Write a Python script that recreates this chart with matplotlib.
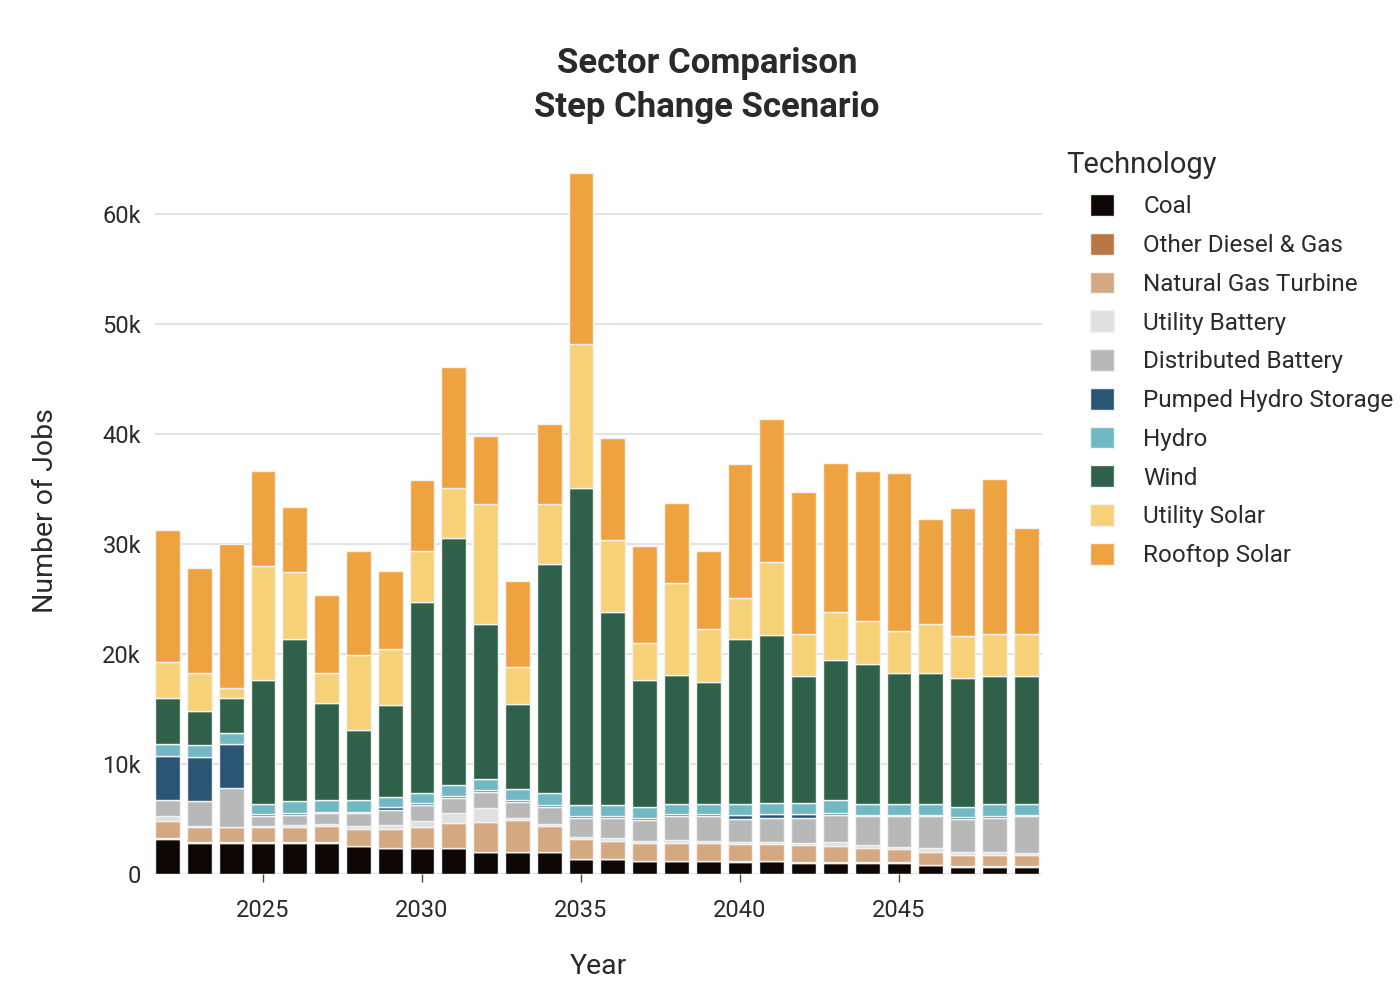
import numpy as np
import matplotlib
matplotlib.use('Agg')
import matplotlib.pyplot as plt
from matplotlib.ticker import FuncFormatter

plt.rcParams['font.family'] = ['Roboto', 'DejaVu Sans']

years = list(range(2022, 2050))

# jobs per technology, in thousands
coal = [3.2, 2.85, 2.85, 2.85, 2.85, 2.85, 2.55, 2.36, 2.36, 2.36, 1.97, 1.97, 1.97, 1.33,
        1.33, 1.15, 1.15, 1.15, 1.12, 1.15, 1.03, 1.03, 1.03, 1.03, 0.82, 0.67, 0.67, 0.67]
other_diesel_gas = [0.03]*28
natural_gas_turbine = [1.55, 1.4, 1.35, 1.4, 1.4, 1.45, 1.5, 1.74, 1.84, 2.24, 2.7, 2.93, 2.39, 1.85,
                       1.67, 1.65, 1.65, 1.65, 1.58, 1.55, 1.54, 1.45, 1.3, 1.21, 1.15, 1.06, 1.06, 1.0]
utility_battery = [0.5, 0.1, 0.05, 0.1, 0.15, 0.2, 0.25, 0.35, 0.55, 0.95, 1.33, 0.2, 0.2, 0.15,
                   0.25, 0.2, 0.25, 0.15, 0.2, 0.2, 0.2, 0.4, 0.25, 0.2, 0.4, 0.2, 0.2, 0.25]
distributed_battery = [1.45, 2.3, 3.55, 0.85, 0.95, 1.0, 1.2, 1.35, 1.45, 1.35, 1.45, 1.4, 1.5, 1.7,
                       1.8, 1.9, 2.15, 2.25, 2.1, 2.2, 2.33, 2.48, 2.62, 2.76, 2.83, 3.04, 3.13, 3.28]
pumped_hydro = [4.0, 3.95, 4.0, 0.2, 0.15, 0.15, 0.15, 0.25, 0.2, 0.2, 0.2, 0.2, 0.2, 0.2,
                0.2, 0.2, 0.2, 0.25, 0.3, 0.3, 0.3, 0.2, 0.15, 0.15, 0.15, 0.15, 0.15, 0.15]
hydro = [1.1, 1.1, 1.0, 0.96, 1.1, 1.05, 1.05, 0.95, 0.9, 0.95, 0.95, 1.0, 1.05, 1.0,
         1.0, 0.95, 0.9, 0.85, 1.0, 1.0, 1.0, 1.14, 1.0, 1.0, 1.0, 0.98, 1.09, 1.0]
wind = [4.2, 3.1, 3.2, 11.25, 14.7, 8.8, 6.4, 8.3, 17.4, 22.45, 14.1, 7.7, 20.8, 28.85,
        17.55, 11.55, 11.8, 11.1, 15.0, 15.3, 11.6, 12.7, 12.75, 11.85, 11.85, 11.7, 11.7, 11.64]
utility_solar = [3.2, 3.4, 0.9, 10.4, 6.1, 2.7, 6.8, 5.1, 4.6, 4.6, 10.9, 3.4, 5.5, 13.1,
                 6.5, 3.4, 8.3, 4.8, 3.8, 6.6, 3.8, 4.4, 3.9, 3.9, 4.5, 3.8, 3.8, 3.8]
rooftop_solar = [12.0, 9.6, 13.1, 8.6, 5.9, 7.1, 9.4, 7.1, 6.5, 11.0, 6.2, 7.8, 7.3, 15.5,
                 9.3, 8.8, 7.3, 7.1, 12.1, 13.0, 12.9, 13.5, 13.6, 14.3, 9.5, 11.6, 14.1, 9.6]

techs = ['Coal', 'Other Diesel & Gas', 'Natural Gas Turbine', 'Utility Battery',
         'Distributed Battery', 'Pumped Hydro Storage', 'Hydro', 'Wind',
         'Utility Solar', 'Rooftop Solar']
series = [coal, other_diesel_gas, natural_gas_turbine, utility_battery, distributed_battery,
          pumped_hydro, hydro, wind, utility_solar, rooftop_solar]
colors = ['#0e0706', '#b87844', '#d4a880', '#e0e0e0', '#b8b8b8',
          '#2a5575', '#6fb8c4', '#2f6049', '#f6d178', '#efa240']

txt = '#2a2a2a'
fig = plt.figure(figsize=(14, 9.89), dpi=100)
ax = fig.add_axes([155/1400, 1-874/989, (1042-155)/1400, (874-148)/989])

bottom = np.zeros(len(years))
for name, vals, c in zip(techs, series, colors):
    v = np.array(vals)*1000
    ax.bar(years, v, bottom=bottom, width=0.78, color=c, edgecolor='#f2f2f2',
           linewidth=1, label=name, zorder=3)
    bottom += v

ax.set_xlim(2021.6, 2049.5)
ax.set_ylim(0, 66000)
ax.set_yticks(range(0, 70000, 10000))
ax.yaxis.set_major_formatter(FuncFormatter(lambda v, p: '0' if v == 0 else '%dk' % (v/1000)))
ax.set_xticks([2025, 2030, 2035, 2040, 2045])
ax.grid(axis='y', color='#e3e3e3', linewidth=1.5, zorder=0)
for s in ax.spines.values():
    s.set_visible(False)
ax.tick_params(axis='y', length=0, labelsize=17, labelcolor=txt, pad=10)
ax.tick_params(axis='x', length=6, width=1, color='#444444', labelsize=17,
               labelcolor=txt, pad=12, direction='out')

ax.set_xlabel('Year', fontsize=20.5, color=txt, labelpad=22)
ax.set_ylabel('Number of Jobs', fontsize=20.5, color=txt, labelpad=31)

fig.text(0.505, 1-63/989, 'Sector Comparison', ha='center', va='center',
         fontsize=25, fontweight='bold', color=txt)
fig.text(0.505, 1-108/989, 'Step Change Scenario', ha='center', va='center',
         fontsize=25, fontweight='bold', color=txt)

# legend title drawn separately so the entries sit indented under it
fig.text(1066/1400, 1-165/989, 'Technology', ha='left', va='center', fontsize=21, color=txt)
leg = fig.legend(loc='upper left', bbox_to_anchor=(1090/1400, 1-194/989), frameon=False,
                 fontsize=17.5, handlelength=1.0, handleheight=1.0, labelspacing=0.6,
                 handletextpad=1.2, borderaxespad=0, borderpad=0)
for t in leg.get_texts():
    t.set_color(txt)

fig.savefig('out.png', dpi=100)
